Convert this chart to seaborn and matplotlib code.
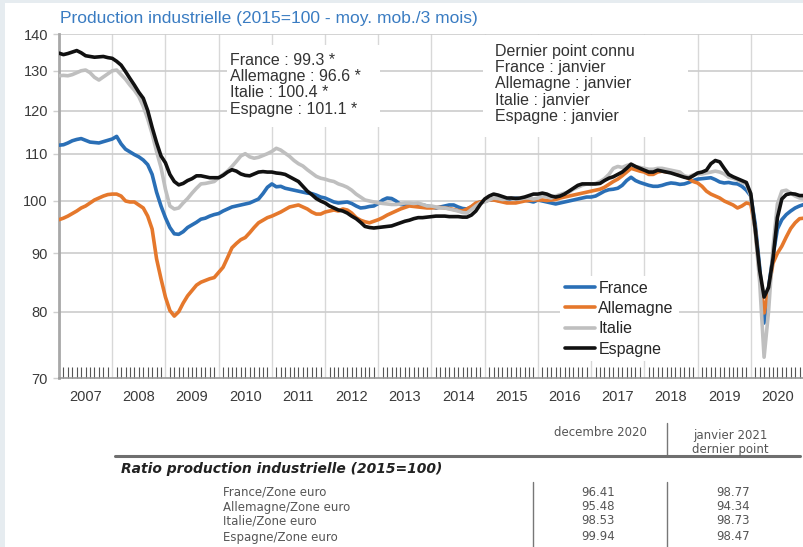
import numpy as np
import pandas as pd
import seaborn as sns
import matplotlib
matplotlib.use('Agg')
import matplotlib.pyplot as plt
from matplotlib.lines import Line2D
from matplotlib.patches import Rectangle
from matplotlib.ticker import FixedLocator, NullLocator

# Indices mensuels (2015=100, moy. mob. 3 mois), janvier 2007 -> janvier 2021
pays = ['France', 'Allemagne', 'Italie', 'Espagne']
annees = list(range(2007, 2021))

france = [
    111.9, 112.0, 112.4, 112.9, 113.2, 113.4, 113.0, 112.6, 112.5, 112.4, 112.7, 113.0,
    113.3, 113.9, 112.2, 111.0, 110.4, 109.8, 109.3, 108.6, 107.6, 105.5, 101.8, 99.0,
    96.7, 94.8, 93.6, 93.5, 94.0, 94.8, 95.3, 95.8, 96.4, 96.6, 97.0, 97.3,
    97.5, 98.0, 98.4, 98.8, 99.0, 99.2, 99.4, 99.6, 100.0, 100.4, 101.5, 102.8,
    103.5, 102.9, 103.0, 102.6, 102.4, 102.2, 102.0, 101.8, 101.6, 101.5, 101.2, 100.8,
    100.6, 100.2, 99.8, 99.6, 99.7, 99.8, 99.5, 99.0, 98.6, 98.7, 98.9, 99.0,
    99.5, 100.2, 100.6, 100.5, 100.0, 99.3, 99.2, 99.3, 99.1, 99.2, 99.2, 99.0,
    98.8, 98.6, 98.8, 99.0, 99.2, 99.2, 98.8, 98.5, 98.4, 98.8, 99.4, 99.8,
    100.0, 100.2, 100.3, 100.1, 100.0, 100.2, 100.5, 100.6, 100.4, 100.2, 100.0, 99.8,
    100.2, 100.0, 99.8, 99.6, 99.4, 99.6, 99.8, 100.0, 100.2, 100.4, 100.6, 100.8,
    100.8, 101.0, 101.5, 102.0, 102.3, 102.4, 102.6, 103.2, 104.2, 104.9, 104.2, 103.8,
    103.5, 103.2, 103.0, 103.0, 103.2, 103.5, 103.7, 103.6, 103.4, 103.5, 103.8, 104.2,
    104.5, 104.6, 104.7, 104.8, 104.4, 103.9, 103.7, 103.8, 103.6, 103.5, 103.0, 102.2,
    101.0, 95.5, 87.5, 78.2, 84.0, 89.5, 94.5, 96.3, 97.3, 98.0, 98.6, 99.0,
    99.3,
]
allemagne = [
    96.3, 96.6, 97.0, 97.5, 98.0, 98.6, 99.0, 99.6, 100.2, 100.6, 101.0, 101.3,
    101.4, 101.4, 101.0, 100.0, 99.8, 99.8, 99.2, 98.6, 97.0, 94.5, 89.0, 85.5,
    82.4, 80.2, 79.3, 80.0, 81.4, 82.6, 83.5, 84.4, 84.9, 85.2, 85.5, 85.7,
    86.6, 87.5, 89.2, 91.0, 91.8, 92.5, 92.9, 93.8, 94.8, 95.7, 96.2, 96.7,
    97.0, 97.4, 97.8, 98.3, 98.8, 99.0, 99.2, 98.8, 98.4, 97.8, 97.4, 97.4,
    97.8, 98.0, 98.2, 98.0, 98.4, 98.2, 97.6, 96.7, 96.2, 95.9, 95.7, 96.0,
    96.3, 96.7, 97.2, 97.6, 98.0, 98.4, 98.7, 99.0, 98.9, 98.8, 98.7, 98.6,
    98.6, 98.7, 98.7, 98.6, 98.5, 98.3, 98.1, 98.0, 98.4, 98.9, 99.6, 99.8,
    100.0, 100.2, 100.2, 100.0, 99.8, 99.6, 99.6, 99.6, 99.8, 100.0, 100.1, 100.2,
    100.2, 100.2, 100.1, 100.2, 100.3, 100.6, 100.8, 101.0, 101.2, 101.4, 101.6, 101.8,
    102.0, 102.2, 102.4, 102.8, 103.4, 104.0, 104.5, 105.2, 106.0, 106.8, 106.5, 106.2,
    106.0, 105.5, 105.5, 106.0, 106.2, 106.0, 106.0, 105.8, 105.5, 105.1, 104.6, 104.0,
    103.7, 103.0, 102.0, 101.4, 101.0, 100.6, 100.0, 99.6, 99.2, 98.6, 99.0, 99.6,
    99.4, 94.5, 86.0, 79.8, 83.5, 88.2, 90.0, 91.3, 93.0, 94.6, 95.7, 96.5,
    96.6,
]
italie = [
    128.7, 128.8, 128.7, 129.0, 129.5, 130.0, 130.2, 129.5, 128.3, 127.6, 128.4, 129.2,
    130.0, 130.2, 129.0, 127.8, 126.3, 125.0, 123.4, 121.0, 118.0, 114.5, 110.5, 107.0,
    102.4, 99.0, 98.4, 98.6, 99.6, 100.5, 101.6, 102.6, 103.5, 103.6, 103.8, 104.0,
    104.8, 105.5, 106.2, 107.2, 108.3, 109.5, 110.0, 109.3, 109.0, 109.2, 109.6, 110.0,
    110.5, 111.2, 110.8, 110.1, 109.4, 108.5, 107.8, 107.3, 106.5, 105.8, 105.1, 104.7,
    104.5, 104.2, 104.0, 103.5, 103.2, 102.8, 102.2, 101.4, 100.8, 100.2, 100.0, 99.8,
    99.6, 99.5, 99.4, 99.3, 99.3, 99.4, 99.6, 99.6, 99.5, 99.6, 99.3, 99.0,
    99.0, 98.8, 98.6, 98.6, 98.4, 98.2, 98.0, 97.7, 97.6, 98.3, 99.0, 99.6,
    99.8, 100.2, 100.6, 100.5, 100.3, 100.4, 100.6, 100.5, 100.4, 100.6, 100.6, 100.4,
    100.6, 101.0, 100.8, 100.6, 101.0, 101.3, 101.6, 101.8, 102.4, 102.8, 103.2, 103.5,
    103.4, 103.6, 104.0, 104.6, 105.5, 106.8, 107.2, 107.0, 107.4, 107.7, 107.2, 107.0,
    106.8, 106.6, 106.6, 106.8, 106.8, 106.6, 106.4, 106.2, 106.0, 105.2, 105.0, 105.4,
    105.6, 105.6, 105.8, 106.0, 106.2, 106.0, 105.6, 104.9, 104.7, 104.3, 103.8, 103.5,
    101.0, 94.0, 85.0, 73.0, 80.0, 91.0, 99.4, 102.0, 102.2, 101.6, 101.0, 100.6,
    100.4,
]
espagne = [
    134.7, 134.3, 134.6, 135.0, 135.4, 134.8, 134.0, 133.8, 133.6, 133.7, 133.8, 133.5,
    133.3, 132.5, 131.5, 129.8, 128.0, 126.3, 124.5, 123.0, 120.0, 116.0, 112.5, 109.5,
    108.0, 105.5, 104.0, 103.3, 103.6, 104.2, 104.6, 105.2, 105.2, 105.0, 104.8, 104.8,
    104.8, 105.3, 106.0, 106.5, 106.2, 105.6, 105.3, 105.2, 105.6, 106.0, 106.1, 106.0,
    106.0, 105.8, 105.7, 105.5, 105.0, 104.5, 104.0, 103.0, 102.0, 101.3, 100.5, 100.0,
    99.6, 99.0, 98.6, 98.2, 98.0, 97.6, 97.0, 96.5, 95.8, 95.0, 94.8, 94.7,
    94.8, 94.9, 95.0, 95.1, 95.4, 95.7, 96.0, 96.2, 96.5, 96.7, 96.7, 96.8,
    96.9, 97.0, 97.0, 97.0, 96.9, 96.9, 96.9, 96.8, 96.8, 97.2, 98.0, 99.3,
    100.4, 101.0, 101.4, 101.2, 100.9, 100.6, 100.6, 100.5, 100.6, 100.8, 101.1, 101.4,
    101.4, 101.6, 101.4, 101.0, 100.8, 101.0, 101.4, 102.0, 102.6, 103.2, 103.5, 103.5,
    103.5, 103.5, 103.6, 104.2, 104.7, 105.0, 105.5, 106.0, 106.8, 107.7, 107.2, 106.8,
    106.4, 106.0, 106.0, 106.4, 106.2, 106.0, 105.8, 105.5, 105.2, 104.9, 104.7, 105.2,
    105.8, 106.0, 106.4, 107.8, 108.5, 108.2, 106.8, 105.5, 105.0, 104.6, 104.2, 103.8,
    101.5, 94.5, 87.0, 82.4, 84.0, 89.0, 96.7, 100.4, 101.3, 101.5, 101.4, 101.1,
    101.1,
]

yticks = [70, 80, 90, 100, 110, 120, 130, 140]

notes_valeurs = ['France : 99.3 *', 'Allemagne : 96.6 *', 'Italie : 100.4 *', 'Espagne : 101.1 *']
notes_dernier = ['Dernier point connu', 'France : janvier', 'Allemagne : janvier',
                 'Italie : janvier', 'Espagne : janvier']

lignes_tableau = ['France/Zone euro', 'Allemagne/Zone euro', 'Italie/Zone euro', 'Espagne/Zone euro']
ratio_dec2020 = ['96.41', '95.48', '98.53', '99.94']
ratio_jan2021 = ['98.77', '94.34', '98.73', '98.47']

couleurs = {'France': '#2a6fb6', 'Allemagne': '#e5782c', 'Italie': '#bfbfbf', 'Espagne': '#111111'}

# long format pour seaborn
dates = 2007 + np.arange(len(france)) / 12
df = pd.DataFrame({
    'date': np.tile(dates, 4),
    'pays': np.repeat(pays, len(france)),
    'indice': np.concatenate([france, allemagne, italie, espagne]),
})

sns.set_style('white')
plt.rcParams['font.family'] = ['Liberation Sans', 'DejaVu Sans']

W, H = 804, 547
fig = plt.figure(figsize=(W / 100, H / 100), dpi=100)
fig.patch.set_facecolor('#e6ecf0')


def fx(x):
    return x / W


def fy(y):
    return 1 - y / H


fig.add_artist(Rectangle((fx(5), 0), 1 - fx(5), fy(3), transform=fig.transFigure,
                         facecolor='white', edgecolor='none', zorder=-5))

ax = fig.add_axes([fx(59), fy(378), fx(804) - fx(59), fy(34) - fy(378)])
sns.lineplot(data=df, x='date', y='indice', hue='pays', hue_order=pays, palette=couleurs,
             linewidth=2.6, estimator=None, sort=False, legend=False, ax=ax, zorder=3)

ax.set_yscale('log')
ax.set_ylim(70, 140)
ax.set_xlim(2007, 2021)
ax.yaxis.set_major_locator(FixedLocator(yticks))
ax.set_yticklabels([str(v) for v in yticks])
ax.yaxis.set_minor_locator(NullLocator())
ax.set_xlabel('')
ax.set_ylabel('')

ax.xaxis.set_major_locator(FixedLocator(annees))
ax.xaxis.set_minor_locator(FixedLocator([a + k / 12 for a in annees for k in range(1, 12)]))
ax.tick_params(axis='x', which='major', direction='out', length=19.5, width=1,
               color='#cfcfcf', labelbottom=False)
ax.tick_params(axis='x', which='minor', direction='in', length=8, width=0.8,
               color='#555555', bottom=True)
ax.tick_params(axis='y', which='major', direction='out', length=4, width=1,
               color='#cfcfcf', pad=4, labelsize=10.5, labelcolor='#3a3a3a', left=True)
ax.set_axisbelow(True)
ax.xaxis.grid(True, which='major', color='#d8d8d8', linewidth=1.0)
# quadrillage horizontal
ax.hlines(yticks[1:], 2007, 2021, colors='#cccccc', linewidths=1.2, zorder=0.6)

for s in ['top', 'right']:
    ax.spines[s].set_visible(False)
ax.spines['left'].set_color('#a8a8a8')
ax.spines['left'].set_linewidth(2)
ax.spines['bottom'].set_color('#9a9a9a')
ax.spines['bottom'].set_linewidth(1.2)

for a in annees:
    ax.text(a + 0.5, -0.055, str(a), transform=ax.get_xaxis_transform(),
            ha='center', va='center', fontsize=10.5, color='#3a3a3a')

# encadres blancs des annotations
for x0, y0, x1, y1 in [(227, 45, 380, 127), (483, 35, 688, 137)]:
    ax.add_patch(Rectangle((fx(x0), fy(y1)), fx(x1) - fx(x0), fy(y0) - fy(y1),
                           transform=fig.transFigure, facecolor='white',
                           edgecolor='none', zorder=1))

fig.text(fx(60), fy(18), 'Production industrielle (2015=100 - moy. mob./3 mois)',
         ha='left', va='center', fontsize=12.5, color='#3a7cc2')
fig.text(fx(230), fy(53), '\n'.join(notes_valeurs), ha='left', va='top',
         fontsize=11.5, color='#333333', linespacing=1.1)
fig.text(fx(495), fy(44), '\n'.join(notes_dernier), ha='left', va='top',
         fontsize=11.5, color='#333333', linespacing=1.1)

ax.legend(handles=ax.lines[:4], labels=pays, loc='upper left',
          bbox_to_anchor=(fx(560), fy(276)), bbox_transform=fig.transFigure,
          frameon=True, fancybox=False, edgecolor='none', facecolor='white',
          framealpha=1, fontsize=11.5, handlelength=1.9, handletextpad=0.2,
          labelspacing=0.33, borderpad=0.3, borderaxespad=0)

# tableau des ratios
tab = dict(fontsize=8.5, color='#555555', family='DejaVu Sans')
fig.text(fx(600), fy(433), 'decembre 2020', ha='center', va='center', **tab)
fig.text(fx(730), fy(435), 'janvier 2021', ha='center', va='center', **tab)
fig.text(fx(730), fy(450), 'dernier point', ha='center', va='center', **tab)
fig.add_artist(Line2D([fx(667), fx(667)], [fy(423), fy(455)], color='#777777', lw=1,
                      transform=fig.transFigure))
fig.add_artist(Line2D([fx(115), fx(800)], [fy(456), fy(456)], color='#6f6f6f', lw=2.2,
                      transform=fig.transFigure))
fig.text(fx(121), fy(469), 'Ratio production industrielle (2015=100)', ha='left', va='center',
         fontsize=10, fontweight='bold', fontstyle='italic', color='#222222',
         family='DejaVu Sans')
for xl in [533, 667]:
    fig.add_artist(Line2D([fx(xl), fx(xl)], [fy(482), fy(547)], color='#777777', lw=1,
                          transform=fig.transFigure))
for nom, v1, v2, yy in zip(lignes_tableau, ratio_dec2020, ratio_jan2021, [492, 507, 521, 537]):
    fig.text(fx(223), fy(yy), nom, ha='left', va='center', **tab)
    fig.text(fx(598), fy(yy), v1, ha='center', va='center', **tab)
    fig.text(fx(733), fy(yy), v2, ha='center', va='center', **tab)

fig.savefig('out.png', dpi=100, facecolor=fig.get_facecolor())
